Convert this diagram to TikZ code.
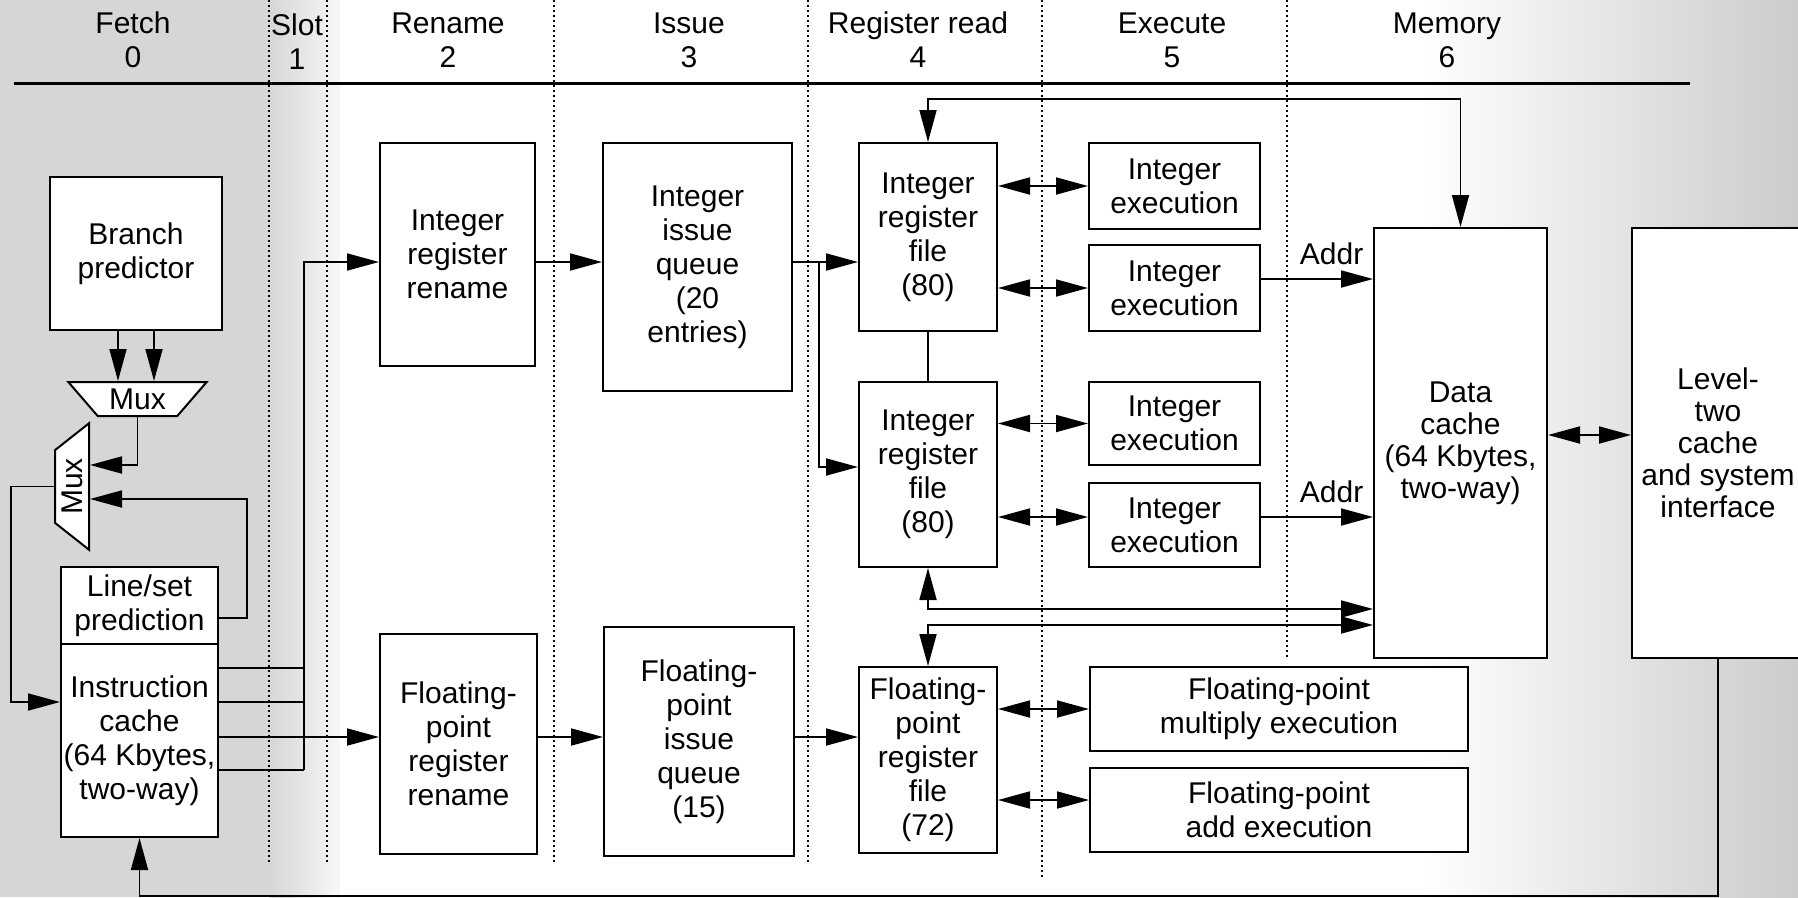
\documentclass[tikz,border=0pt]{standalone}
\usepackage{fontspec}
\setmainfont{Liberation Sans}
\usetikzlibrary{arrows.meta,positioning,shapes.geometric}

\newcommand{\blocktext}{\fontsize{30}{34}\selectfont}
\newcommand{\cachetext}{\fontsize{30}{32}\selectfont}

\begin{document}
\begin{tikzpicture}[
    x=1pt, y=-1pt,
    every node/.style={font=\blocktext},
    box/.style={rectangle, draw, fill=white, line width=2pt, align=center, inner sep=0pt},
    mux/.style={trapezium, draw, fill=white, line width=2pt, trapezium stretches=true,
      trapezium left angle=45, trapezium right angle=45, inner sep=0pt, minimum height=34pt},
    stage/.style={align=center},
    wire/.style={line width=1.8pt},
    arrow/.style={wire, -{Triangle[length=32pt,width=17pt]}},
    dblarrow/.style={wire, {Triangle[length=32pt,width=17pt]}-{Triangle[length=32pt,width=17pt]}},
    guide/.style={line width=1.2pt, dash pattern=on 1.5pt off 3.5pt}
  ]
  \useasboundingbox (0,0) rectangle (1798,897);

  % shaded paper
  \fill[gray!32] (0,0) rectangle (269,897);
  \shade[left color=gray!32, right color=gray!6] (269,0) rectangle (340,897);
  \shade[left color=white, right color=gray!40] (1420,0) rectangle (1798,897);

  % pipeline stages
  \foreach \gx/\gy in {269/865, 327/865, 554/865, 808/865, 1042/877, 1287/657}
    \draw[guide] (\gx,0) -- (\gx,\gy);
  \draw[line width=3pt] (14,83) -- (1690,83);
  \node[stage] (fetch) at (133,40) {Fetch\\0};
  \node[stage] (slot) at (297,42) {Slot\\1};
  \node[stage] (rename) at (448,40) {Rename\\2};
  \node[stage] (issue) at (689,40) {Issue\\3};
  \node[stage] (regread) at (918,40) {Register read\\4};
  \node[stage] (execute) at (1172,40) {Execute\\5};
  \node[stage] (memory) at (1447,40) {Memory\\6};

  % fetch
  \node[box, minimum width=172pt, minimum height=153pt] (bp) at (136,253.5) {Branch\\predictor};
  \node[mux, shape border rotate=180, minimum width=139pt] (muxa) at (137.5,399) {Mux};
  \node[mux, rotate=90, minimum width=127pt] (muxb) at (72,486.5) {Mux};
  \node[box, minimum width=157pt, minimum height=77pt] (lsp) at (139.5,605.5) {Line/set\\prediction};
  \node[box, minimum width=157pt, minimum height=193pt] (icache) at (139.5,740.5) {Instruction\\cache\\(64 Kbytes,\\two-way)};

  % integer side
  \node[box, minimum width=155pt, minimum height=223pt] (irename) at (457.5,254.5) {Integer\\register\\rename};
  \node[box, minimum width=189pt, minimum height=248pt] (iqueue) at (697.5,267) {Integer\\issue\\queue\\(20\\entries)};
  \node[box, minimum width=138pt, minimum height=188pt] (rfa) at (928,237) {Integer\\register\\file\\(80)};
  \node[box, minimum width=138pt, minimum height=185pt] (rfb) at (928,474.5) {Integer\\register\\file\\(80)};
  \node[box, minimum width=171pt, minimum height=86pt] (exa) at (1174.5,186) {Integer\\execution};
  \node[box, minimum width=171pt, minimum height=86pt] (exb) at (1174.5,288) {Integer\\execution};
  \node[box, minimum width=171pt, minimum height=83pt] (exc) at (1174.5,423.5) {Integer\\execution};
  \node[box, minimum width=171pt, minimum height=84pt] (exd) at (1174.5,525) {Integer\\execution};

  % memory
  \node[box, font=\cachetext, minimum width=173pt, minimum height=430pt] (dcache) at (1460.5,443) {Data\\cache\\(64 Kbytes,\\two-way)};
  \node[box, font=\cachetext, minimum width=172pt, minimum height=430pt] (ltwo) at (1718,443) {Level-\\two\\cache\\and system\\interface};

  % floating-point side
  \node[box, minimum width=157pt, minimum height=220pt] (fprename) at (458.5,744) {Floating-\\point\\register\\rename};
  \node[box, minimum width=190pt, minimum height=229pt] (fpqueue) at (699,741.5) {Floating-\\point\\issue\\queue\\(15)};
  \node[box, minimum width=138pt, minimum height=186pt] (fprf) at (928,760) {Floating-\\point\\register\\file\\(72)};
  \node[box, minimum width=378pt, minimum height=84pt] (fpmul) at (1279,709) {Floating-point\\multiply execution};
  \node[box, minimum width=378pt, minimum height=84pt] (fpadd) at (1279,810) {Floating-point\\add execution};

  % fetch loop
  \draw[arrow] ([xshift=-18pt]bp.south) -- ([xshift=-18pt]bp.south |- muxa.north);
  \draw[arrow] ([xshift=18pt]bp.south) -- ([xshift=18pt]bp.south |- muxa.north);
  \draw[arrow] (muxa.south) |- ([yshift=21.5pt]muxb.south);
  \draw[arrow] ([yshift=-12.5pt]lsp.east) -- ++(28,0) |- ([yshift=-12.5pt]muxb.south);
  \draw[arrow] (muxb.north) -- ++(-43,0) |- ([yshift=38.5pt]icache.west);

  % instruction distribution
  \draw[wire] ([yshift=72.5pt]icache.east) -- ++(85,0);
  \draw[wire] ([yshift=38.5pt]icache.east) -- ++(85,0);
  \draw[wire] ([yshift=-29.5pt]icache.east) -- ++(85,0) coordinate (busend);
  \draw[arrow] (busend) |- ([yshift=-7.5pt]irename.west);
  \draw[arrow] ([yshift=3.5pt]icache.east) -- ([yshift=3.5pt]icache.east -| fprename.west);

  % integer flow
  \draw[arrow] ([yshift=-7.5pt]irename.east) -- ([yshift=-7.5pt]irename.east -| iqueue.west);
  \draw[arrow] ([yshift=5pt]iqueue.east) -- ([yshift=5pt]iqueue.east -| rfa.west);
  \draw[arrow] ([xshift=26pt,yshift=5pt]iqueue.east) |- ([yshift=7.5pt]rfb.west);
  \draw[wire] (rfa.south) -- (rfb.north);
  \draw[dblarrow] (rfa.east |- exa.west) -- (exa.west);
  \draw[dblarrow] (rfa.east |- exb.west) -- (exb.west);
  \draw[dblarrow] (rfb.east |- exc.west) -- (exc.west);
  \draw[dblarrow] ([yshift=8pt]rfb.east |- exd.west) -- ([yshift=8pt]exd.west);
  \draw[arrow] ([yshift=9pt]exb.east) -- ([yshift=9pt]exb.east -| dcache.west)
    node[pos=0.63, above=10pt] (addra) {Addr};
  \draw[arrow] ([yshift=8pt]exd.east) -- ([yshift=8pt]exd.east -| dcache.west)
    node[pos=0.63, above=10pt] (addrb) {Addr};

  % cache paths
  \draw[dblarrow] (rfa.north) -- ++(0,-43) -| (dcache.north);
  \draw[dblarrow] (rfb.south) |- ([yshift=50pt]dcache.south west);
  \draw[dblarrow] ([yshift=34pt]dcache.south west) -| (fprf.north);
  \draw[dblarrow] ([yshift=8pt]dcache.east) -- ([yshift=8pt]dcache.east -| ltwo.west);
  \draw[arrow] (ltwo.south) -- ++(0,237) -| (icache.south);

  % floating-point flow
  \draw[arrow] ([yshift=7pt]fprename.east) -- ([yshift=7pt]fprename.east -| fpqueue.west);
  \draw[arrow] ([yshift=4.5pt]fpqueue.east) -- ([yshift=4.5pt]fpqueue.east -| fprf.west);
  \draw[dblarrow] (fprf.east |- fpmul.west) -- (fpmul.west);
  \draw[dblarrow] ([yshift=10pt]fprf.east |- fpadd.west) -- ([yshift=10pt]fpadd.west);
\end{tikzpicture}
\end{document}
